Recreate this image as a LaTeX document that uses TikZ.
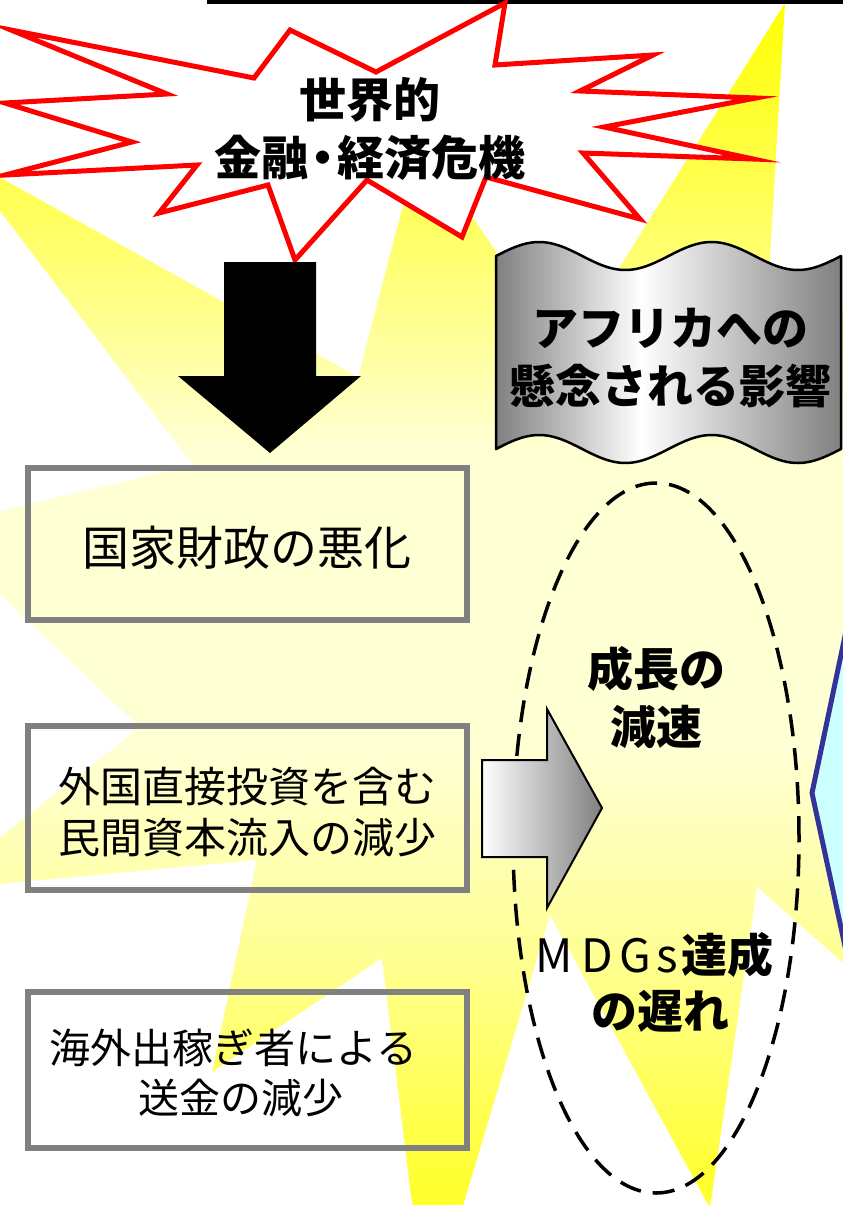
\documentclass[tikz,border=0pt]{standalone}
\usepackage{fontspec}
\newfontfamily\jp{Noto Sans CJK JP}
\definecolor{paleY}{RGB}{255,255,212}
\definecolor{topY}{RGB}{255,255,0}
\definecolor{upY}{RGB}{255,255,110}
\definecolor{lowY}{RGB}{255,255,150}
\definecolor{botY}{RGB}{255,255,40}
\definecolor{boxgray}{RGB}{128,128,128}
\definecolor{blueline}{RGB}{51,51,153}
\definecolor{cyanfill}{RGB}{204,255,255}
\definecolor{starred}{RGB}{255,0,0}
\pgfdeclareverticalshading{burstshade}{100bp}{color(0bp)=(botY); color(25bp)=(botY); color(35.6bp)=(lowY); color(43.9bp)=(paleY); color(56.3bp)=(paleY); color(64.6bp)=(upY); color(75bp)=(topY); color(100bp)=(topY)}
\pgfdeclarehorizontalshading{bannershade}{100bp}{color(0bp)=(boxgray); color(25bp)=(boxgray); color(46bp)=(white); color(75bp)=(boxgray); color(100bp)=(boxgray)}
\tikzset{
  txt/.style={inner sep=0pt, outer sep=0pt, align=center, text=black},
  framebox/.style={draw=boxgray, line width=6pt, minimum width=439pt, inner sep=0pt},
  boldtxt/.style={txt, font=\jp\bfseries\fontsize{#1}{58}\selectfont},
}
\begin{document}
\begin{tikzpicture}[x=1pt, y=-1pt]
\useasboundingbox (0,0) rectangle (843,1205);
\clip (0,0) rectangle (843,1205);
\fill[white] (0,0) rectangle (843,1205);
% yellow burst
\begin{scope}
\clip (785,3) -- (764,360) -- (1000,210) -- (860,700) -- (980,1083) -- (757,887) -- (710,1208) -- (550,915) -- (427,1326) -- (382,958) -- (212,1072) -- (257,860) -- (-67,890) -- (140,727) -- (-71,528) -- (193,465) -- (-44,153) -- (358,377) -- (420,141) -- (566,353) -- cycle;
\shade[shading=burstshade] (0,0) rectangle (843,1205);
\end{scope}
% top rule
\coordinate (tl1) at (207,1.75);
\coordinate (tl2) at (843,1.75);
\draw[line width=3.5pt] (tl1) -- (tl2);
% red explosion
\draw[starred, line width=5pt, fill=white, line join=miter, miter limit=20]
 (505,3) -- (495,65) -- (653,55) -- (580,91) -- (756,98) -- (604,127) -- (753,159) -- (583,153) -- (640,219) -- (486,177) -- (462,237) -- (367,180) -- (295,260) -- (268,185) -- (159,213) -- (197,165) -- (5,175) -- (132,142) -- (5,103) -- (167,94) -- (11,30) -- (254,78) -- (290,30) -- (376,72) -- cycle;
\node[boldtxt=47] (crisis) at (370,129) {世界的\\金融\kern-0.2em・\kern-0.2em経済危機};
% black arrow
\fill[black] (224,262) -- (316,262) -- (316,376) -- (361,376) -- (270,453) -- (178,376) -- (224,376) -- cycle;
% banner
\shadedraw[shading=bannershade, line width=2.5pt, line join=round]
 plot[domain=496:841, samples=90] (\x, {256-14*sin((\x-496)/172.5*360)})
 -- plot[domain=841:496, samples=90] (\x, {449-14*sin((\x-496)/172.5*360)}) -- cycle;
\node[boldtxt=46] (concern) at (670,358) {アフリカへの\\懸念される影響};
% boxes
\node[framebox, minimum height=152pt] (box1) at (247.5,544) {};
\node[txt, font=\jp\fontsize{47}{58}\selectfont] (finance) at (247,548) {国家財政の悪化};
\node[framebox, minimum height=164pt] (box2) at (247.5,808) {};
\node[txt, font=\jp\fontsize{42}{51}\selectfont] (fdi) at (247,812) {外国直接投資を含む\\民間資本流入の減少};
\node[framebox, minimum height=156pt] (box3) at (247.5,1070) {};
\node[txt, font=\jp\fontsize{41}{50}\selectfont] (remit) at (241,1073) {海外出稼ぎ者による\kern15pt\\送金の減少};
% dashed ellipse
\coordinate (ec) at (656,838);
\draw[line width=3.5pt, dash pattern=on 22pt off 12pt] (ec) ellipse[x radius=143pt, y radius=355pt];
% gradient arrow
\draw[line width=2pt, line join=miter, left color=white, right color=boxgray]
 (482,760) -- (547,760) -- (547,709) -- (602,808) -- (547,908) -- (547,857) -- (482,857) -- cycle;
% blue shape
\draw[blueline, line width=5pt, fill=cyanfill, line join=miter]
 (861,560) -- (812,793) -- (863,1030) -- (900,1030) -- (900,560) -- cycle;
% ellipse texts
\node[boldtxt=46] (growth) at (656,698) {成長の\\減速};
\node[txt, font=\jp\bfseries\fontsize{46}{56}\selectfont] (mdgs) at (652.5,982)
 {{\mdseries\makebox[45pt]{M}\makebox[40pt]{D}\makebox[37pt]{G}\makebox[27pt]{s}}達成\\\kern15pt の遅れ};
\end{tikzpicture}
\end{document}
